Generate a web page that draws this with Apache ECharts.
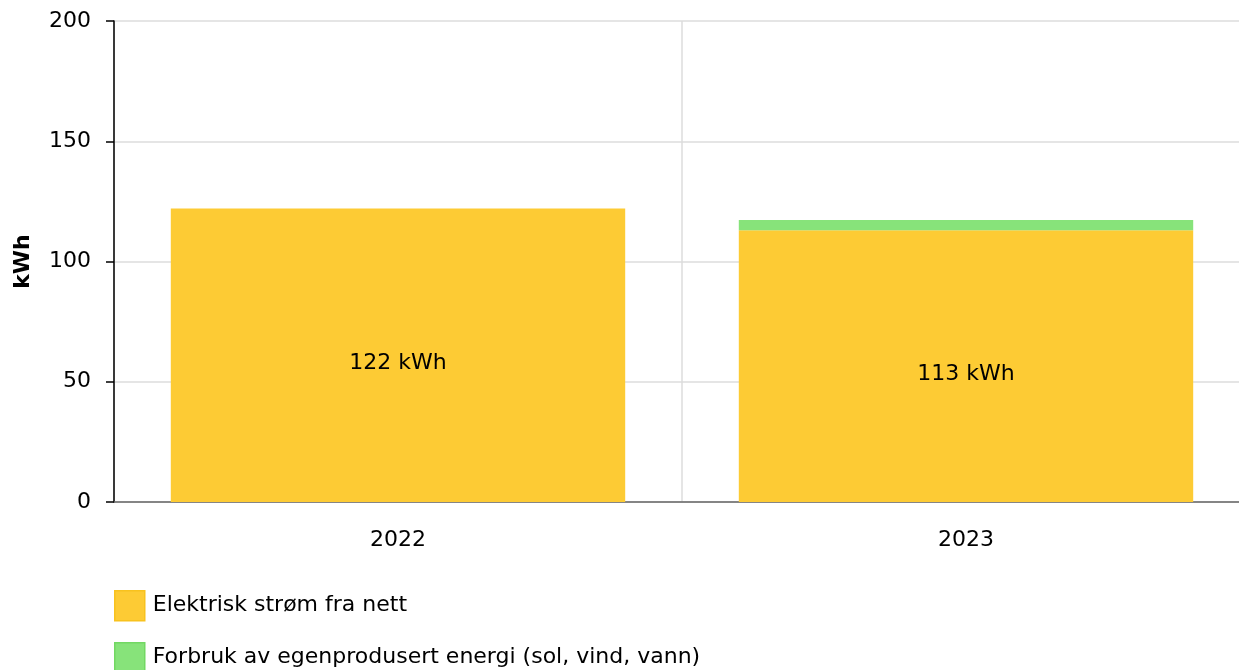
<!DOCTYPE html>
<html><head><meta charset="utf-8">
<script src="https://cdn.jsdelivr.net/npm/echarts@6/dist/echarts.min.js"></script>
<style>html,body{margin:0;padding:0;background:#fff;overflow:hidden;width:1239px;height:670px}#c{width:1250px;height:670px}</style>
</head><body><div id="c"></div>
<script>
const categories = ['2022', '2023'];
const gridValues = [122, 113];
const ownValues = [0, 4.3];
const seriesNames = ['Elektrisk strøm fra nett', 'Forbruk av egenprodusert energi (sol, vind, vann)'];
const yTicks = [0, 50, 100, 150, 200];

const FONT = 'DejaVu Sans';
const FS = 22;
const colors = ['#FDCB34', '#87E37A'];
const borders = ['#F8C21E', '#72D863'];
const chart = echarts.init(document.getElementById('c'), null, {renderer: 'canvas'});
const legendBase = (i, top) => ({
  left: 109, top: top, orient: 'vertical', itemWidth: 30, itemHeight: 30,
  icon: 'rect',
  itemStyle: {borderColor: borders[i], borderWidth: 1.5},
  textStyle: {fontFamily: FONT, fontSize: FS, color: '#000', padding: [0, 0, 0, 3]},
  data: [seriesNames[i]]
});
chart.setOption({
  animation: false,
  textStyle: {fontFamily: FONT},
  grid: {left: 114, top: 21, right: 0, bottom: 168, containLabel: false},
  legend: [legendBase(0, 585), legendBase(1, 637)],
  xAxis: {
    type: 'category', data: categories,
    axisLine: {lineStyle: {color: '#666', width: 1.5}},
    axisTick: {alignWithLabel: true, length: 8, lineStyle: {color: '#aaa', width: 2}},
    axisLabel: {fontSize: FS, color: '#000', margin: 27, fontFamily: FONT},
    splitLine: {show: true, lineStyle: {color: '#ddd', width: 1.5}}
  },
  yAxis: {
    type: 'value', min: yTicks[0], max: yTicks[yTicks.length - 1], interval: 50,
    name: 'kWh', nameLocation: 'middle', nameGap: 80, nameRotate: 90,
    nameTextStyle: {fontSize: FS, fontWeight: 'bold', color: '#000', fontFamily: FONT},
    axisLine: {show: true, lineStyle: {color: '#000', width: 1.5}},
    axisTick: {show: true, length: 8, lineStyle: {color: '#000', width: 1.5}},
    axisLabel: {fontSize: FS, color: '#000', margin: 23, fontFamily: FONT},
    splitLine: {lineStyle: {color: '#ddd', width: 1.5}}
  },
  series: [
    {
      name: seriesNames[0], type: 'bar', stack: 'a', barWidth: '80%', data: gridValues,
      itemStyle: {color: colors[0]},
      label: {show: true, position: 'inside', offset: [0, 8], formatter: p => p.value + ' kWh',
        fontSize: FS, color: '#000', fontFamily: FONT}
    },
    {
      name: seriesNames[1], type: 'bar', stack: 'a', barWidth: '80%', data: ownValues,
      itemStyle: {color: colors[1]}
    }
  ]
});
</script></body></html>
